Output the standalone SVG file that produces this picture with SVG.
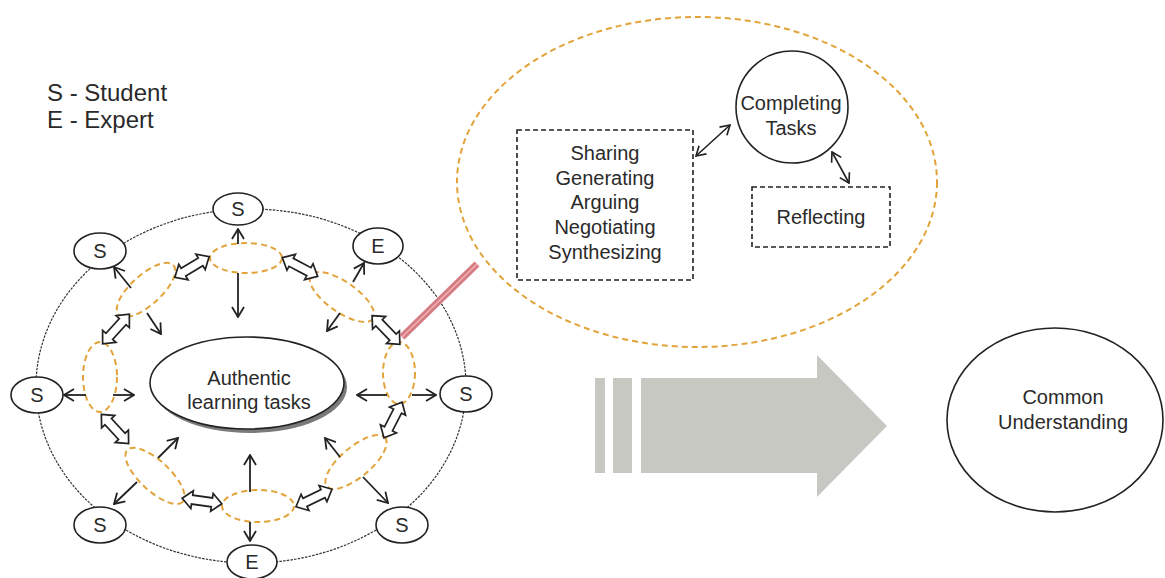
<svg xmlns="http://www.w3.org/2000/svg" width="1165" height="578" viewBox="0 0 1165 578">
  <style>
    .txt { font-family: "Liberation Sans", Arial, sans-serif; font-size: 20px; fill: #2a2a2a; }
    .mid { text-anchor: middle; }
    .legend { font-size: 24px; }
    .node { fill: #fff; stroke: #222; stroke-width: 1.6; }
    .ring { fill: none; stroke: #333; stroke-width: 1.2; stroke-dasharray: 2.5 1.2; }
    .group { fill: none; stroke: #e2a43a; stroke-width: 2; stroke-dasharray: 6 4; }
    .box { fill: #fff; stroke: #222; stroke-width: 1.6; stroke-dasharray: 5 3; }
    .arrow { fill: none; stroke: #222; stroke-width: 1.8; marker-end: url(#ah); }
    .arrow2 { fill: none; stroke: #222; stroke-width: 1.6; marker-start: url(#ah2); marker-end: url(#ah2); }
    .dbl { fill: #fff; stroke: #222; stroke-width: 1.7; stroke-linejoin: miter; }
  </style>
  <defs>
    <marker id="ah" viewBox="0 0 12 14" refX="11" refY="7" markerWidth="12" markerHeight="14" markerUnits="userSpaceOnUse" orient="auto-start-reverse">
      <path d="M1,1 L11,7 L1,13" fill="none" stroke="#222" stroke-width="1.8"/>
    </marker>
    <marker id="ah2" viewBox="0 0 12 14" refX="11" refY="7" markerWidth="11" markerHeight="13" markerUnits="userSpaceOnUse" orient="auto-start-reverse">
      <path d="M1,1 L11,7 L1,13" fill="none" stroke="#222" stroke-width="1.8"/>
    </marker>
    <!-- hollow double-headed block arrow, centred on the origin along x -->
    <path id="dblArrow" class="dbl" d="M-20,0 L-10,-9 L-10,-4.5 L10,-4.5 L10,-9 L20,0 L10,9 L10,4.5 L-10,4.5 L-10,9 Z"/>
  </defs>

  <rect width="1165" height="578" fill="#fff"/>

  <!-- legend -->
  <g id="legend">
    <text class="txt legend" x="47" y="101">S - Student</text>
    <text class="txt legend" x="47" y="128">E - Expert</text>
  </g>

  <!-- outer community ring -->
  <g id="ring">
    <ellipse class="ring" cx="251" cy="386" rx="215" ry="177"/>
  </g>

  <!-- group clusters (dashed) -->
  <g id="clusters">
    <ellipse class="group" cx="246" cy="258" rx="36" ry="15"/>
    <ellipse class="group" cx="146" cy="290" rx="37" ry="15" transform="rotate(-42 146 290)"/>
    <ellipse class="group" cx="342" cy="297" rx="38" ry="15" transform="rotate(35 342 297)"/>
    <ellipse class="group" cx="100" cy="377" rx="17" ry="35"/>
    <ellipse class="group" cx="399" cy="373" rx="16" ry="31"/>
    <ellipse class="group" cx="155" cy="476" rx="38" ry="15" transform="rotate(43 155 476)"/>
    <ellipse class="group" cx="258" cy="506" rx="36" ry="16"/>
    <ellipse class="group" cx="356" cy="462" rx="38" ry="15" transform="rotate(-40 356 462)"/>
  </g>

  <!-- central task -->
  <g id="task">
    <ellipse cx="250" cy="387" rx="97" ry="46" fill="#7a7a7a"/>
    <ellipse class="node" cx="247" cy="383" rx="97" ry="46"/>
    <text class="txt mid" x="249" y="385">Authentic</text>
    <text class="txt mid" x="249" y="409">learning tasks</text>
  </g>

  <!-- connectors -->
  <g id="connectors">
    <!-- cluster to member / cluster to task -->
    <line class="arrow" x1="238" y1="244" x2="238" y2="229"/>
    <line class="arrow" x1="238" y1="273" x2="238" y2="317"/>
    <line class="arrow" x1="131" y1="288" x2="114" y2="267"/>
    <line class="arrow" x1="147" y1="313" x2="161" y2="334"/>
    <line class="arrow" x1="353" y1="282" x2="364" y2="263"/>
    <line class="arrow" x1="340" y1="313" x2="327" y2="331"/>
    <line class="arrow" x1="86" y1="395" x2="64" y2="395"/>
    <line class="arrow" x1="113" y1="395" x2="134" y2="395"/>
    <line class="arrow" x1="387" y1="395" x2="357" y2="395"/>
    <line class="arrow" x1="412" y1="395" x2="436" y2="395"/>
    <line class="arrow" x1="158" y1="458" x2="178" y2="438"/>
    <line class="arrow" x1="137" y1="482" x2="114" y2="504"/>
    <line class="arrow" x1="250" y1="492" x2="250" y2="455"/>
    <line class="arrow" x1="250" y1="522" x2="250" y2="541"/>
    <line class="arrow" x1="340" y1="457" x2="325" y2="438"/>
    <line class="arrow" x1="363" y1="477" x2="388" y2="503"/>

    <!-- exchanges between neighbouring clusters -->
    <use href="#dblArrow" transform="translate(192 267) rotate(-31)"/>
    <use href="#dblArrow" transform="translate(300 267) rotate(28)"/>
    <use href="#dblArrow" transform="translate(116 329) rotate(-48)"/>
    <use href="#dblArrow" transform="translate(386 330) rotate(46)"/>
    <use href="#dblArrow" transform="translate(115 429) rotate(47)"/>
    <use href="#dblArrow" transform="translate(393 420) rotate(-63)"/>
    <use href="#dblArrow" transform="translate(202 501) rotate(8)"/>
    <use href="#dblArrow" transform="translate(314 498) rotate(-26)"/>

    <!-- zoom callout -->
    <line x1="402" y1="337" x2="477" y2="264" stroke="#d77b83" stroke-width="7"/>
    <line x1="402" y1="337" x2="477" y2="264" stroke="#eeb3b8" stroke-width="1.5"/>

    <!-- inside the detail view -->
    <line class="arrow2" x1="696" y1="156" x2="730" y2="125"/>
    <line class="arrow2" x1="832" y1="152" x2="849" y2="183"/>
  </g>

  <!-- members -->
  <g id="node-s-top"><ellipse class="node" cx="238" cy="209" rx="25" ry="16"/><text class="txt mid" x="238" y="216">S</text></g>
  <g id="node-e-topright"><ellipse class="node" cx="378" cy="246" rx="25" ry="18"/><text class="txt mid" x="378" y="253">E</text></g>
  <g id="node-s-topleft"><ellipse class="node" cx="100" cy="251" rx="26" ry="18"/><text class="txt mid" x="100" y="258">S</text></g>
  <g id="node-s-left"><ellipse class="node" cx="37" cy="395" rx="26" ry="18"/><text class="txt mid" x="37" y="402">S</text></g>
  <g id="node-s-right"><ellipse class="node" cx="466" cy="394" rx="26" ry="18"/><text class="txt mid" x="466" y="401">S</text></g>
  <g id="node-s-bottomleft"><ellipse class="node" cx="100" cy="525" rx="26" ry="18"/><text class="txt mid" x="100" y="532">S</text></g>
  <g id="node-s-bottomright"><ellipse class="node" cx="402" cy="525" rx="26" ry="18"/><text class="txt mid" x="402" y="532">S</text></g>
  <g id="node-e-bottom"><ellipse class="node" cx="252" cy="562" rx="25" ry="17"/><text class="txt mid" x="252" y="569">E</text></g>

  <!-- detail view of a cluster -->
  <g id="detail">
    <ellipse class="group" cx="697" cy="182" rx="240" ry="165"/>
  </g>
  <g id="node-activities">
    <rect class="box" x="517" y="130" width="176" height="150"/>
    <text class="txt mid" x="605" y="160">Sharing</text>
    <text class="txt mid" x="605" y="185">Generating</text>
    <text class="txt mid" x="605" y="209">Arguing</text>
    <text class="txt mid" x="605" y="234">Negotiating</text>
    <text class="txt mid" x="605" y="259">Synthesizing</text>
  </g>
  <g id="node-completing">
    <circle class="node" cx="792" cy="107" r="56"/>
    <text class="txt mid" x="791" y="110">Completing</text>
    <text class="txt mid" x="791" y="135">Tasks</text>
  </g>
  <g id="node-reflecting">
    <rect class="box" x="752" y="187" width="138" height="60"/>
    <text class="txt mid" x="821" y="224">Reflecting</text>
  </g>

  <!-- progression arrow -->
  <g id="progress" fill="#c8c8c3">
    <rect x="595" y="378" width="10" height="95"/>
    <rect x="613" y="378" width="19" height="95"/>
    <path d="M641,378 L817,378 L817,355 L887,426 L817,497 L817,473 L641,473 Z"/>
  </g>

  <!-- outcome -->
  <g id="node-common">
    <ellipse class="node" cx="1055" cy="420" rx="108" ry="92"/>
    <text class="txt mid" x="1063" y="404">Common</text>
    <text class="txt mid" x="1063" y="429">Understanding</text>
  </g>
</svg>
